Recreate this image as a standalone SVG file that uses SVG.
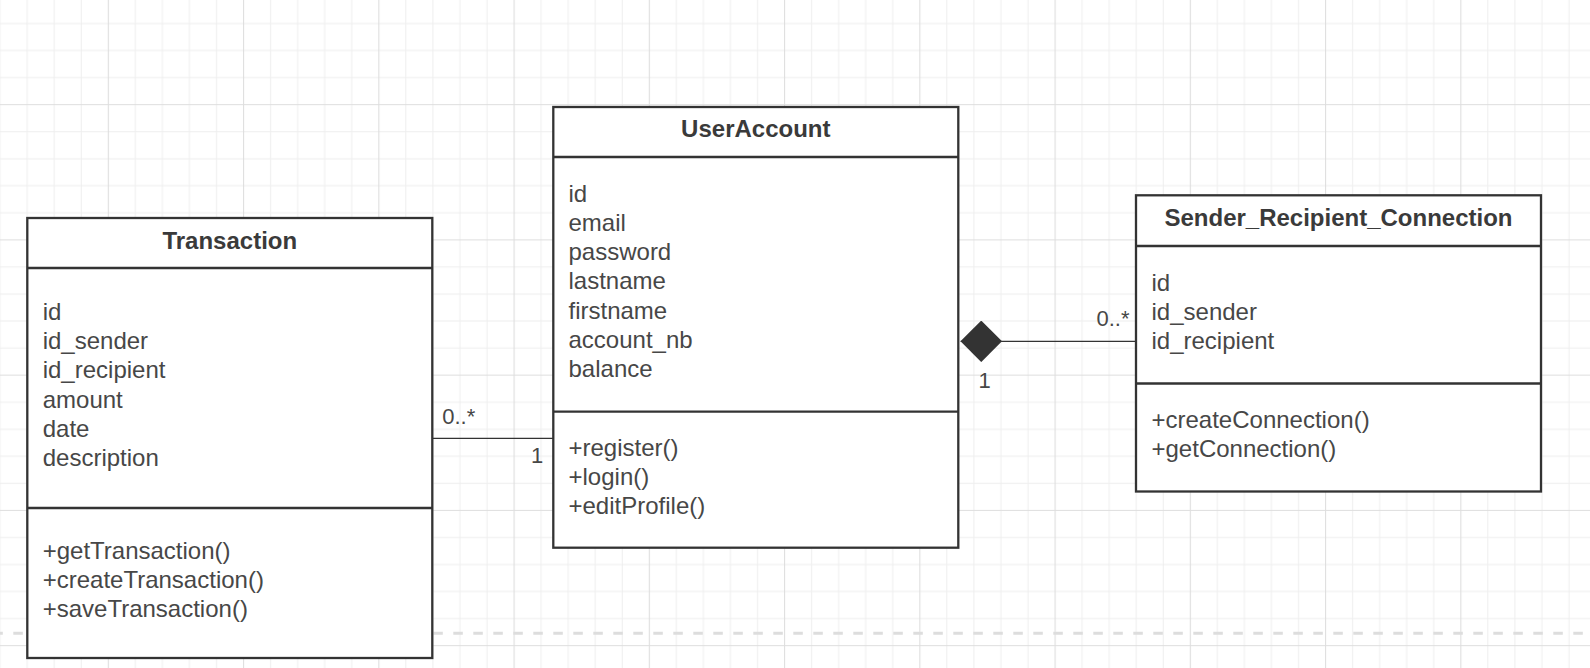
<svg xmlns="http://www.w3.org/2000/svg" width="1590" height="668" viewBox="0 0 1590 668">
<style>
.box{fill:#ffffff;stroke:#333333;stroke-width:2.3}
.div{stroke:#333333;stroke-width:2.3}
.title{font-family:"Liberation Sans",Arial,sans-serif;font-size:24px;font-weight:bold;fill:#3a3a3a;text-anchor:middle}
.txt{font-family:"Liberation Sans",Arial,sans-serif;font-size:24px;fill:#474747}
.lbl{font-family:"Liberation Sans",Arial,sans-serif;font-size:22px;fill:#474747;text-anchor:middle}
.conn{fill:none;stroke:#333333;stroke-width:1.3}
</style>
<defs>
<pattern id="grid" patternUnits="userSpaceOnUse" x="107.8" y="104.15" width="135.25" height="135.25">
<g stroke="#eeeeee" stroke-width="1">
<line x1="27.55" y1="0" x2="27.55" y2="135.25"/>
<line x1="54.6" y1="0" x2="54.6" y2="135.25"/>
<line x1="81.65" y1="0" x2="81.65" y2="135.25"/>
<line x1="108.7" y1="0" x2="108.7" y2="135.25"/>
<line x1="0" y1="27.55" x2="135.25" y2="27.55"/>
<line x1="0" y1="54.6" x2="135.25" y2="54.6"/>
<line x1="0" y1="81.65" x2="135.25" y2="81.65"/>
<line x1="0" y1="108.7" x2="135.25" y2="108.7"/>
</g>
<g stroke="#dedede" stroke-width="1.2">
<line x1="0.5" y1="0" x2="0.5" y2="135.25"/>
<line x1="0" y1="0.5" x2="135.25" y2="0.5"/>
</g>
</pattern>
<marker id="diamond" viewBox="0 0 41.5 41.5" refX="0" refY="20.75" markerWidth="41.5" markerHeight="41.5" markerUnits="userSpaceOnUse" orient="auto">
<polygon points="0,20.75 20.75,0 41.5,20.75 20.75,41.5" fill="#333333"/>
</marker>
</defs>
<rect x="0" y="0" width="1590" height="668" fill="#ffffff"/>
<rect x="0" y="0" width="1590" height="668" fill="url(#grid)"/>
<line x1="0" y1="633.3" x2="1590" y2="633.3" stroke="#dddddd" stroke-width="3" stroke-dasharray="9.5 10.5" stroke-dashoffset="6.7"/>

<g id="connectors">
<line class="conn" x1="432.3" y1="438.3" x2="553.3" y2="438.3"/>
<text class="lbl" x="458.7" y="423.5">0..*</text>
<text class="lbl" x="537" y="462.5">1</text>
<path class="conn" d="M960.5,341.3 L1136,341.3" marker-start="url(#diamond)"/>
<text class="lbl" x="1113" y="326">0..*</text>
<text class="lbl" x="984.5" y="388">1</text>
</g>

<g id="Transaction">
<rect class="box" x="27.3" y="218" width="405" height="440"/>
<line class="div" x1="27.3" y1="268" x2="432.3" y2="268"/>
<line class="div" x1="27.3" y1="508" x2="432.3" y2="508"/>
<text class="title" x="229.8" y="248.5">Transaction</text>
<text class="txt" x="42.7" y="320"><tspan x="42.7">id</tspan><tspan x="42.7" dy="29.2">id_sender</tspan><tspan x="42.7" dy="29.2">id_recipient</tspan><tspan x="42.7" dy="29.2">amount</tspan><tspan x="42.7" dy="29.2">date</tspan><tspan x="42.7" dy="29.2">description</tspan></text>
<text class="txt" x="42.7" y="558.8"><tspan x="42.7">+getTransaction()</tspan><tspan x="42.7" dy="29.2">+createTransaction()</tspan><tspan x="42.7" dy="29.2">+saveTransaction()</tspan></text>
</g>

<g id="UserAccount">
<rect class="box" x="553.3" y="107" width="405" height="440.7"/>
<line class="div" x1="553.3" y1="157" x2="958.3" y2="157"/>
<line class="div" x1="553.3" y1="411.7" x2="958.3" y2="411.7"/>
<text class="title" x="755.8" y="137.3">UserAccount</text>
<text class="txt" x="568.5" y="201.75"><tspan x="568.5">id</tspan><tspan x="568.5" dy="29.2">email</tspan><tspan x="568.5" dy="29.2">password</tspan><tspan x="568.5" dy="29.2">lastname</tspan><tspan x="568.5" dy="29.2">firstname</tspan><tspan x="568.5" dy="29.2">account_nb</tspan><tspan x="568.5" dy="29.2">balance</tspan></text>
<text class="txt" x="568.5" y="455.5"><tspan x="568.5">+register()</tspan><tspan x="568.5" dy="29.2">+login()</tspan><tspan x="568.5" dy="29.2">+editProfile()</tspan></text>
</g>

<g id="Sender_Recipient_Connection">
<rect class="box" x="1136" y="195.3" width="405" height="296.2"/>
<line class="div" x1="1136" y1="246" x2="1541" y2="246"/>
<line class="div" x1="1136" y1="383.5" x2="1541" y2="383.5"/>
<text class="title" x="1338.5" y="226">Sender_Recipient_Connection</text>
<text class="txt" x="1151.5" y="290.5"><tspan x="1151.5">id</tspan><tspan x="1151.5" dy="29.2">id_sender</tspan><tspan x="1151.5" dy="29.2">id_recipient</tspan></text>
<text class="txt" x="1151.5" y="427.9"><tspan x="1151.5">+createConnection()</tspan><tspan x="1151.5" dy="29.2">+getConnection()</tspan></text>
</g>
</svg>
